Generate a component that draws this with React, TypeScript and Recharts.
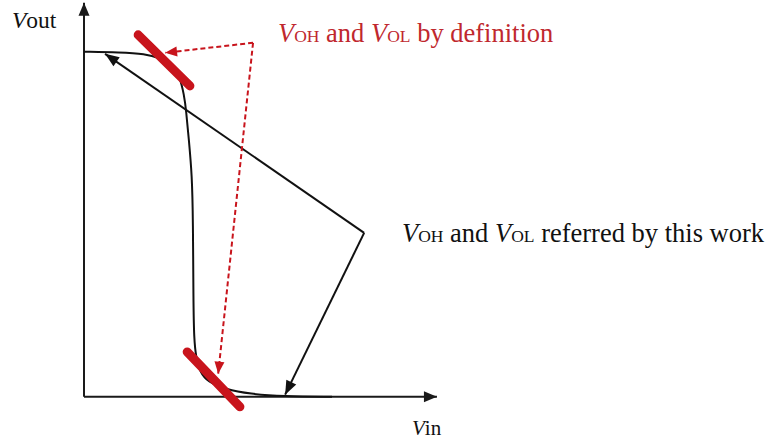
import React from 'react';
import { ComposedChart, Line, XAxis, YAxis } from 'recharts';

// Voltage transfer curve, Vin and Vout normalised to VDD
const vinValues = [0, 0.104, 0.177, 0.22, 0.255, 0.278, 0.29, 0.296, 0.304, 0.313, 0.316, 0.317, 0.319, 0.325, 0.336, 0.359, 0.409, 0.481, 0.577, 0.719];
const voutValues = [1.0, 0.998, 0.994, 0.982, 0.962, 0.927, 0.875, 0.831, 0.744, 0.643, 0.512, 0.281, 0.165, 0.113, 0.072, 0.043, 0.022, 0.008, 0.001, 0];

// axes (origin -> arrow tip)
const xAxisLine = [{ x: 0, y: 0 }, { x: 1.023, y: 0 }];
const yAxisLine = [{ x: 0, y: 0 }, { x: 0, y: 1.142 }];

// thick red marks where slope = -1
const vohMark = [{ x: 0.157, y: 1.049 }, { x: 0.307, y: 0.901 }];
const volMark = [{ x: 0.299, y: 0.13 }, { x: 0.452, y: -0.029 }];

// dashed red arrows from the "by definition" label
const defCorner = { x: 0.49, y: 1.026 };
const defToVoh = [defCorner, { x: 0.235, y: 0.997 }];
const defToVol = [defCorner, { x: 0.389, y: 0.067 }];

// black arrows from the "referred by this work" label
const workCorner = { x: 0.812, y: 0.475 };
const workToVoh = [workCorner, { x: 0.061, y: 0.994 }];
const workToVol = [workCorner, { x: 0.583, y: 0.006 }];

const vtcData = vinValues.map((x, i) => ({ x, y: voutValues[i] }));

const RED = '#c8141c';
const RED_TEXT = '#c0282e';
const FONT = "'Liberation Serif', 'Times New Roman', serif";

function arrowHead(color: string, len: number, half: number) {
  return (props: any) => {
    const { cx, cy, index, points } = props;
    if (!points || index !== points.length - 1) return <g key={`n-${index}`} />;
    const prev = points[index - 1];
    const a = Math.atan2(cy - prev.y, cx - prev.x);
    const bx = cx - len * Math.cos(a);
    const by = cy - len * Math.sin(a);
    const nx = -Math.sin(a) * half;
    const ny = Math.cos(a) * half;
    const pts = `${cx},${cy} ${bx + nx},${by + ny} ${bx - nx},${by - ny}`;
    return <polygon key={`a-${index}`} points={pts} fill={color} stroke="none" />;
  };
}

function Label({ x, y, sub1, sub2, rest, mid, color }: any) {
  return (
    <text x={x} y={y} fill={color} style={{ fontFamily: FONT, fontSize: 26.5 }}>
      <tspan fontStyle="italic">V</tspan>
      <tspan style={{ fontSize: 17.5 }}>{sub1}</tspan>
      <tspan>{mid}</tspan>
      <tspan fontStyle="italic">V</tspan>
      <tspan style={{ fontSize: 17.5 }}>{sub2}</tspan>
      <tspan>{rest}</tspan>
    </text>
  );
}

export default function App() {
  return (
    <div style={{ position: 'absolute', left: 0, top: 0, background: '#fff' }}>
      <ComposedChart
        width={767}
        height={445}
        margin={{ top: 0, right: 303.5, bottom: 6.85, left: 66.75 }}
      >
        <XAxis type="number" dataKey="x" domain={[-0.05, 1.1]} allowDataOverflow hide />
        <YAxis type="number" dataKey="y" domain={[-0.12, 1.15]} allowDataOverflow hide />

        <Line data={xAxisLine} dataKey="y" stroke="#1a1a1a" strokeWidth={2} dot={arrowHead('#1a1a1a', 13, 5.5)} isAnimationActive={false} />
        <Line data={yAxisLine} dataKey="y" stroke="#1a1a1a" strokeWidth={2} dot={arrowHead('#1a1a1a', 13, 5.5)} isAnimationActive={false} />

        <Line data={vtcData} dataKey="y" type="basis" stroke="#111" strokeWidth={2} dot={false} isAnimationActive={false} />

        <Line data={workToVoh} dataKey="y" stroke="#111" strokeWidth={2} dot={arrowHead('#111', 14, 5.5)} isAnimationActive={false} />
        <Line data={workToVol} dataKey="y" stroke="#111" strokeWidth={2} dot={arrowHead('#111', 14, 5.5)} isAnimationActive={false} />

        <Line data={defToVoh} dataKey="y" stroke={RED} strokeWidth={2} strokeDasharray="5 3" dot={arrowHead(RED, 12, 5)} isAnimationActive={false} />
        <Line data={defToVol} dataKey="y" stroke={RED} strokeWidth={2} strokeDasharray="5 3" dot={arrowHead(RED, 12, 5)} isAnimationActive={false} />

        <Line data={vohMark} dataKey="y" stroke={RED} strokeWidth={9} strokeLinecap="round" dot={false} isAnimationActive={false} />
        <Line data={volMark} dataKey="y" stroke={RED} strokeWidth={9} strokeLinecap="round" dot={false} isAnimationActive={false} />

        <text x={12} y={28} fill="#111" style={{ fontFamily: FONT, fontSize: 23.5 }}>
          <tspan fontStyle="italic">V</tspan>
          <tspan>out</tspan>
        </text>
        <text x={412} y={435} fill="#111" style={{ fontFamily: FONT, fontSize: 21 }}>
          <tspan fontStyle="italic">V</tspan>
          <tspan>in</tspan>
        </text>
        <Label x={278} y={42} color={RED_TEXT} sub1="OH" mid=" and " sub2="OL" rest=" by definition" />
        <Label x={402} y={242} color="#111" sub1="OH" mid=" and " sub2="OL" rest=" referred by this work" />
      </ComposedChart>
    </div>
  );
}
